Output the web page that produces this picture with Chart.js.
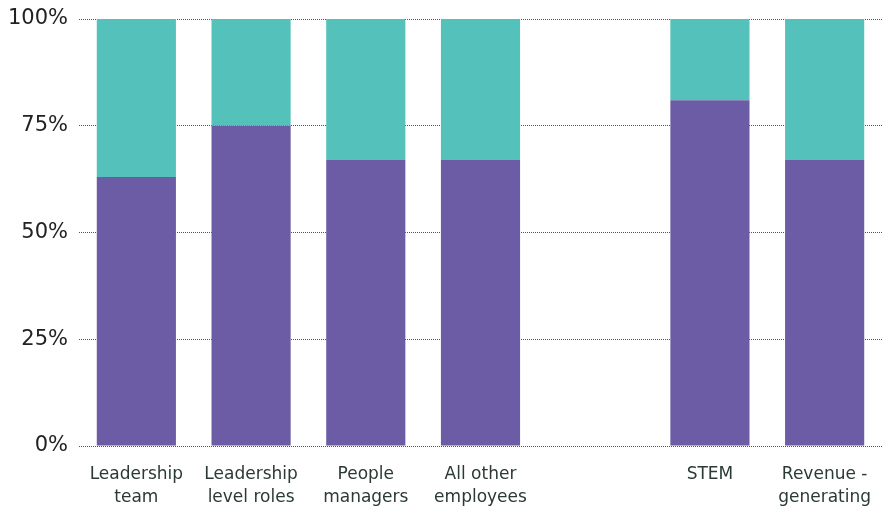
<!DOCTYPE html>
<html>
<head>
<meta charset="utf-8">
<script src="https://cdn.jsdelivr.net/npm/chart.js@4/dist/chart.umd.min.js"></script>
<style>
  html, body { margin: 0; padding: 0; background: #ffffff; }
  #wrap { width: 887px; height: 511px; position: relative; }
</style>
</head>
<body>
<div id="wrap"><canvas id="c" width="887" height="511"></canvas></div>
<script>
const categories = [
  ['Leadership', 'team'],
  ['Leadership', 'level roles'],
  ['People', 'managers'],
  ['All other', 'employees'],
  '',
  ['STEM'],
  ['Revenue -', 'generating']
];
const purpleValues = [63, 75, 67, 67, null, 81, 67];
const tealValues   = [37, 25, 33, 33, null, 19, 33];
const yTicks = [0, 25, 50, 75, 100];

const PURPLE = '#6c5ca6';
const TEAL = '#54c2bb';

new Chart(document.getElementById('c'), {
  type: 'bar',
  data: {
    labels: categories,
    datasets: [
      { label: 'Group A', data: purpleValues, backgroundColor: PURPLE, borderWidth: 0 },
      { label: 'Group B', data: tealValues, backgroundColor: TEAL, borderWidth: 0 }
    ]
  },
  options: {
    responsive: false,
    animation: false,
    devicePixelRatio: 1,
    layout: { padding: { left: 0, right: 5, top: 19, bottom: 0 } },
    datasets: { bar: { categoryPercentage: 1.0, barPercentage: 0.69 } },
    plugins: { legend: { display: false }, tooltip: { enabled: false } },
    scales: {
      x: {
        stacked: true,
        grid: { display: false, drawTicks: false },
        border: { display: false },
        afterFit: (scale) => { scale.height = 65; scale.paddingLeft = 0; scale.paddingRight = 0; },
        ticks: {
          padding: 18,
          color: '#2b3a35',
          font: { family: 'DejaVu Sans', size: 17, lineHeight: 1.3 },
          maxRotation: 0,
          autoSkip: false
        }
      },
      y: {
        stacked: true,
        min: 0,
        max: 100,
        afterBuildTicks: (axis) => { axis.ticks = yTicks.map(v => ({ value: v })); },
        afterFit: (scale) => { scale.width = 79; scale.paddingTop = 0; scale.paddingBottom = 0; },
        grid: { color: '#555555', lineWidth: 1, drawTicks: false },
        border: { display: false, dash: [1, 1] },
        ticks: {
          padding: 11,
          color: '#222222',
          font: { family: 'DejaVu Sans', size: 21 },
          callback: (v) => v + '%'
        }
      }
    }
  }
});
</script>
</body>
</html>
